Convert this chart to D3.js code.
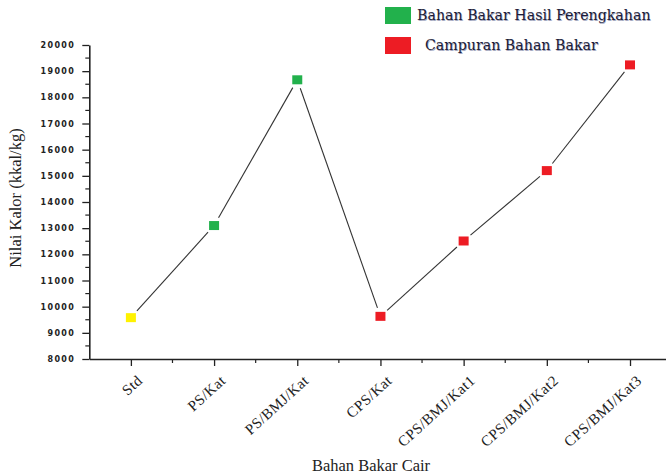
<!DOCTYPE html>
<html>
<head>
<meta charset="utf-8">
<script src="https://cdn.jsdelivr.net/npm/d3@7"></script>
<style>
  html, body { margin: 0; padding: 0; background: #fff; }
  svg { display: block; }
</style>
</head>
<body>
<svg id="chart" width="666" height="476"></svg>
<script>
// Heating value of each liquid fuel sample
const categories = ["Std", "PS/Kat", "PS/BMJ/Kat", "CPS/Kat", "CPS/BMJ/Kat1", "CPS/BMJ/Kat2", "CPS/BMJ/Kat3"];
const heatValues = [9580, 13100, 18670, 9630, 12510, 15200, 19240];
const groups = ["std", "crack", "crack", "mix", "mix", "mix", "mix"];
const yTicks = [8000, 9000, 10000, 11000, 12000, 13000, 14000, 15000, 16000, 17000, 18000, 19000, 20000];
const legendLabels = ["Bahan Bakar Hasil Perengkahan", "Campuran Bahan Bakar"];

const groupColor = { std: "#fff200", crack: "#22b14c", mix: "#ed1c24" };

const svg = d3.select("#chart");
const axisLeftX = 89.3, axisBottomY = 359;

const x = d3.scalePoint().domain(categories).range([axisLeftX, 671.6]).padding(0.5);
const y = d3.scaleLinear().domain([8000, 20000]).range([axisBottomY, 45]);

const ink = "#222";
const serif = "Liberation Serif, Times New Roman, serif";

// Y axis: majors every 1000 with labels, minors at 500
const yAxis = d3.axisLeft(y).tickValues(yTicks).tickSize(7).tickSizeOuter(0).tickFormat(d3.format("d"));
const gy = svg.append("g").attr("transform", `translate(${axisLeftX},0)`).call(yAxis);
gy.select(".domain").attr("stroke", ink).attr("stroke-width", 1.6);
gy.selectAll(".tick line").attr("stroke", ink).attr("stroke-width", 1.3);
gy.selectAll(".tick text")
  .attr("x", -14)
  .attr("font-family", "DejaVu Sans, Verdana, sans-serif")
  .attr("font-weight", "bold")
  .attr("font-size", 8)
  .attr("letter-spacing", 1.4)
  .attr("fill", "#222");
const yMinor = d3.range(8500, 20000, 1000);
svg.append("g").selectAll("line").data(yMinor).join("line")
  .attr("x1", axisLeftX - 4).attr("x2", axisLeftX)
  .attr("y1", d => y(d)).attr("y2", d => y(d))
  .attr("stroke", ink).attr("stroke-width", 1.2);

// X axis: categories with minor ticks between them
const xAxis = d3.axisBottom(x).tickSize(7).tickSizeOuter(0);
const gx = svg.append("g").attr("transform", `translate(0,${axisBottomY})`).call(xAxis);
gx.select(".domain").attr("stroke", ink).attr("stroke-width", 1.6);
gx.selectAll(".tick line").attr("stroke", ink).attr("stroke-width", 1.3);
gx.selectAll(".tick text")
  .attr("font-family", serif)
  .attr("font-size", 15)
  .attr("letter-spacing", 0.4)
  .attr("fill", "#222")
  .attr("text-anchor", "end")
  .attr("dy", null)
  .attr("y", 0)
  .attr("transform", "translate(12,23) rotate(-42)");
const step = x.step();
svg.append("g").selectAll("line").data(categories.slice(0, -1)).join("line")
  .attr("x1", d => x(d) + step / 2).attr("x2", d => x(d) + step / 2)
  .attr("y1", axisBottomY).attr("y2", axisBottomY + 4)
  .attr("stroke", ink).attr("stroke-width", 1.2);

// Connecting line, broken short of each marker
const pts = categories.map((c, i) => [x(c), y(heatValues[i])]);
const gap = 9;
const segs = d3.pairs(pts).map(([a, b]) => {
  const dx = b[0] - a[0], dy = b[1] - a[1], len = Math.hypot(dx, dy);
  const ux = dx / len, uy = dy / len;
  return [a[0] + ux * gap, a[1] + uy * gap, b[0] - ux * gap, b[1] - uy * gap];
});
svg.append("g").selectAll("line").data(segs).join("line")
  .attr("x1", d => d[0]).attr("y1", d => d[1])
  .attr("x2", d => d[2]).attr("y2", d => d[3])
  .attr("stroke", "#333").attr("stroke-width", 1.1);

// Square markers
const ms = 10;
svg.append("g").selectAll("rect").data(categories).join("rect")
  .attr("x", d => x(d) - ms / 2)
  .attr("y", (d, i) => y(heatValues[i]) - (ms - 1) / 2)
  .attr("width", ms).attr("height", ms - 1)
  .attr("fill", (d, i) => groupColor[groups[i]]);

// Axis titles
svg.append("text")
  .attr("transform", "translate(21,198) rotate(-90)")
  .attr("text-anchor", "middle")
  .attr("font-family", serif)
  .attr("font-size", 16.5)
  .attr("fill", "#222")
  .text("Nilai Kalor (kkal/kg)");
svg.append("text")
  .attr("x", 371).attr("y", 471)
  .attr("text-anchor", "middle")
  .attr("font-family", serif)
  .attr("font-size", 16.5)
  .attr("fill", "#222")
  .text("Bahan Bakar Cair");

// Legend
const legend = svg.append("g");
const legendRows = [
  { label: legendLabels[0], color: groupColor.crack, y: 7, tx: 417 },
  { label: legendLabels[1], color: groupColor.mix, y: 37, tx: 425 }
];
const legendFont = "DejaVu Serif, serif";
legendRows.forEach(r => {
  legend.append("rect").attr("x", 385).attr("y", r.y).attr("width", 26).attr("height", 17).attr("fill", r.color);
  legend.append("text")
    .attr("x", r.tx + 0.7).attr("y", r.y + 13.7)
    .attr("font-family", legendFont)
    .attr("font-size", 14.2)
    .attr("fill", "#a4a8c0")
    .text(r.label);
  legend.append("text")
    .attr("x", r.tx).attr("y", r.y + 13)
    .attr("font-family", legendFont)
    .attr("font-size", 14.2)
    .attr("fill", "#1c1c38")
    .text(r.label);
});
</script>
</body>
</html>
